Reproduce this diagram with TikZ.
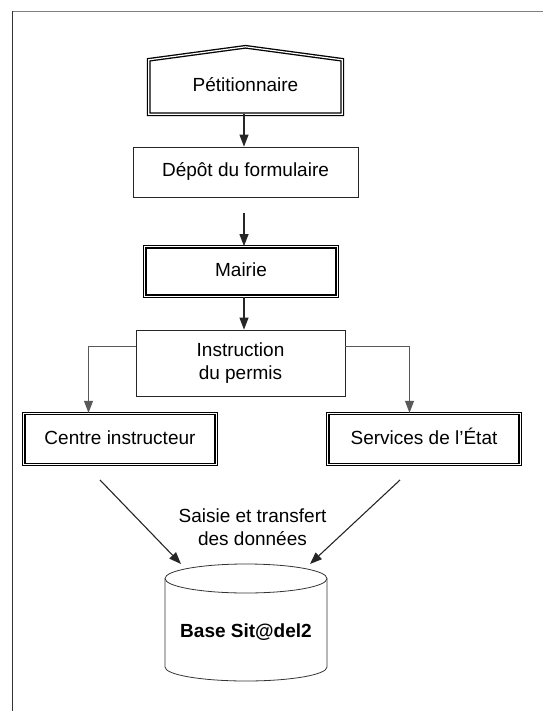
\documentclass[tikz,border=0pt]{standalone}
\usepackage{fontspec}
\setmainfont{Liberation Sans}
\usetikzlibrary{arrows.meta}

\tikzset{
  cadre/.style={draw=black!85, line width=0.8pt, inner sep=0pt, align=center},
  cadredouble/.style={draw=black, line width=1.3pt, double, double distance=1.2pt},
  fleche/.style={draw=black!85, line width=1.1pt, -{Triangle[length=12pt,width=9pt]}},
  branche/.style={draw=black!65, line width=0.9pt, -{Triangle[length=12pt,width=9pt]}},
  texte/.style={text height=14pt, text depth=4pt}
}

\begin{document}
\begin{tikzpicture}[x=1pt,y=-1pt,font=\fontsize{19}{23}\selectfont]
        \useasboundingbox (0,0) rectangle (543,711);

        % Cadre de la page
        \draw[gray, line width=1.5pt] (12,11.5) -- (543,11.5);
        \draw[black!80, line width=1.2pt] (12.5,11) -- (12.5,711);

        % Axe des fleches
        \coordinate (axe) at (244,0);

        % Petitionnaire
        \node[texte, minimum width=193pt, minimum height=54pt, inner sep=0pt] (petit) at (245.5,87) {Pétitionnaire};
        \draw[cadredouble] (petit.south west) -- (petit.north west) -- ([yshift=13pt]petit.north)
              -- (petit.north east) -- (petit.south east) -- cycle;

        % Depot du formulaire
        \node[cadre, texte, minimum width=225pt, minimum height=50pt] (depot) at (245.5,172) {Dépôt du formulaire};
        \draw[fleche] (axe |- petit.south) -- (axe |- depot.north);

        % Mairie
        \node[cadre, cadredouble, texte, minimum width=192.5pt, minimum height=49.5pt] (mairie) at (241,271.5) {Mairie};
        \coordinate (sousdepot) at (244,213);
        \draw[fleche] (sousdepot) -- (axe |- mairie.north);

        % Instruction du permis
        \node[cadre, minimum width=209pt, minimum height=66pt] (instr) at (240.5,363) {Instruction\\du permis};
        \draw[fleche] (axe |- mairie.south) -- (axe |- instr.north);

        % Centre instructeur et Services de l'Etat
        \node[cadre, cadredouble, texte, minimum width=192.5pt, minimum height=51pt] (centre) at (120,439) {Centre instructeur};
        \node[cadre, cadredouble, texte, minimum width=192.5pt, minimum height=51pt] (etat) at (424,439) {Services de l’État};
        \draw[branche] ([yshift=-17pt]instr.north west) -| ([xshift=-31.5pt]centre.north);
        \draw[branche] ([yshift=-17pt]instr.north east) -| ([xshift=-14.5pt]etat.north);

        % Saisie et transfert
        \node[align=center] (saisie) at (252.5,527.5) {Saisie et transfert\\des données};
        \coordinate (depcentre) at (100,480);
        \coordinate (arrcentre) at (181,564);
        \coordinate (depetat) at (400,480);
        \coordinate (arretat) at (310,564);
        \draw[fleche] (depcentre) -- (arrcentre);
        \draw[fleche] (depetat) -- (arretat);

        % Base Sit@del2
        \draw[black!80, line width=0.8pt] (165,578.5) -- (165,667) arc[start angle=180, end angle=0, x radius=81, y radius=14] -- (327,578.5);
        \draw[black!80, line width=0.8pt] (246,578.5) ellipse [x radius=81, y radius=14.5];
        \node[font=\fontsize{19}{23}\selectfont\bfseries] (base) at (246,632) {Base Sit@del2};
    \end{tikzpicture}
\end{document}
